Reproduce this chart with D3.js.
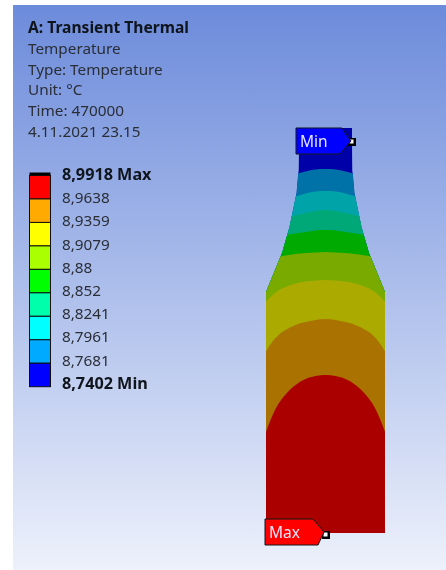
<!DOCTYPE html>
<html lang="en">
<head>
  <meta charset="UTF-8">
  <title>A: Transient Thermal</title>
  <style type="text/css">
    html, body {margin:0;background:#fff;}
    svg {display:block;}
    text {font-family:"Noto Sans",sans-serif;fill:#2a2d36;}
    .info {font-size:15.3px;}
    .title {font-size:15.6px;font-weight:bold;fill:#11131a;}
    .axis text {font-size:15.3px;}
    .axis text.bold {font-size:16.2px;font-weight:bold;fill:#11131a;}
    .tag {font-size:15.5px;fill:#e6e6ff;}
  </style>
</head>
<body>
  <svg id="chart" width="446" height="570"></svg>
  <script src="https://d3js.org/d3.v7.min.js"></script>
  <script type="text/javascript">
    var infoLines = ["A: Transient Thermal", "Temperature", "Type: Temperature", "Unit: °C", "Time: 470000", "4.11.2021 23.15"];

    // legend, top to bottom
    var tickLabels = ["8,9918 Max", "8,9638", "8,9359", "8,9079", "8,88", "8,852", "8,8241", "8,7961", "8,7681", "8,7402 Min"];
    var legendColors = ["#ff0000", "#ffaa00", "#ffff00", "#aaff00", "#00ff00", "#00ffaa", "#00ffff", "#00aaff", "#0000ff"];

    // the same bands on the model are darker, from the neck down
    var bandColors = ["#0000a8", "#0072a8", "#00a4a8", "#00a878", "#00aa00", "#78aa00", "#aaaa00", "#aa7200", "#aa0000"];

    // bottle outline, model units
    var profileHeight = [0, 48.2, 56, 61.2, 68, 72.6, 81];
    var profileRadius = [11.9, 11.9, 8.7, 7.2, 5.8, 5.4, 5.3];

    // isotherm heights read at each radius, from the neck downwards
    var contourRadius = [0, 2, 4, 6, 8, 10, 12];
    var contours = [
      [72.8, 72.7, 72.3, 71.8, 71.4, 71.2, 71],
      [68.4, 68.3, 67.9, 67.3, 66.9, 66.6, 66.4],
      [64.6, 64.4, 64, 63.5, 63, 62.6, 62.2],
      [60.6, 60.5, 60.2, 59.9, 59.6, 59.2, 58.8],
      [56.2, 56.1, 56, 55.8, 55.5, 55.1, 54.4],
      [50.6, 50.5, 50.3, 49.9, 49.2, 48.1, 46.2],
      [42.8, 42.6, 42.2, 41.6, 40.6, 39, 36.2],
      [31.6, 31.4, 30.8, 29.6, 27.7, 24.8, 20]
    ];

    var svg = d3.select("#chart");

    var grad = svg.append("defs").append("linearGradient")
      .attr("id", "bg").attr("x1", 0).attr("x2", 0).attr("y1", 0).attr("y2", 1);
    grad.append("stop").attr("offset", 0).attr("stop-color", "#6c8bdb");
    grad.append("stop").attr("offset", 1).attr("stop-color", "#edf1fb");

    svg.select("defs").append("filter").attr("id", "soft")
      .append("feGaussianBlur").attr("stdDeviation", 0.55);

    var root = svg.append("g").attr("filter", "url(#soft)");

    //background
    root.append("rect")
      .attr("x", 13).attr("y", 5).attr("width", 433).attr("height", 565)
      .attr("fill", "url(#bg)");

    //header text
    root.selectAll(".info")
      .data(infoLines)
      .enter().append("text")
      .attr("class", function(d, i) { return i == 0 ? "title" : "info"; })
      .attr("x", 28)
      .attr("y", function(d, i) { return 33 + i * 20.8; })
      .text(function(d) { return d; });

    //legend
    var yLegend = d3.scaleBand().domain(legendColors).range([175.5, 386.7]);

    root.append("rect")
      .attr("x", 29.5).attr("y", 172.5).attr("width", 21).attr("height", 4)
      .attr("fill", "#000");

    root.selectAll(".swatch")
      .data(legendColors)
      .enter().append("rect")
      .attr("class", "swatch")
      .attr("x", 29.5)
      .attr("y", function(d) { return yLegend(d); })
      .attr("width", 21)
      .attr("height", yLegend.bandwidth())
      .attr("fill", function(d) { return d; })
      .attr("stroke", "#111")
      .attr("stroke-width", 1);

    var yTicks = d3.scalePoint().domain(tickLabels).range([174, 383]);

    var axisG = root.append("g")
      .attr("class", "axis")
      .attr("transform", "translate(54,0)")
      .call(d3.axisRight(yTicks).tickSize(0).tickPadding(8));
    axisG.select(".domain").remove();
    axisG.selectAll("text")
      .classed("bold", function(d) { return d == tickLabels[0] || d == tickLabels[9]; })
      .attr("dy", "0.35em");

    //bottle
    var x = d3.scaleLinear().domain([-12, 12]).range([265.5, 385.5]);
    var y = d3.scaleLinear().domain([0, 81]).range([533, 128]);

    var profile = profileHeight.map(function(h, i) { return [profileRadius[i], h]; });
    var outline = profile.map(function(p) { return [x(-p[0]), y(p[1])]; })
      .concat(profile.slice().reverse().map(function(p) { return [x(p[0]), y(p[1])]; }));

    var bottlePath = d3.line().curve(d3.curveLinearClosed)(outline);

    svg.select("defs").append("clipPath").attr("id", "bottle")
      .append("path").attr("d", bottlePath);

    var model = root.append("g").attr("clip-path", "url(#bottle)");

    model.append("path").attr("d", bottlePath).attr("fill", bandColors[0]);

    var band = d3.area()
      .curve(d3.curveNatural)
      .x(function(d) { return x(d[0]); })
      .y0(y(0))
      .y1(function(d) { return y(d[1]); });

    model.selectAll(".band")
      .data(contours)
      .enter().append("path")
      .attr("class", "band")
      .attr("fill", function(d, i) { return bandColors[i + 1]; })
      .attr("d", function(d) {
        var right = contourRadius.map(function(r, i) { return [r, d[i]]; });
        var left = right.slice(1).reverse().map(function(p) { return [-p[0], p[1]]; });
        return band(left.concat(right));
      });

    //probe tags
    function tag(label, left, top, color, shape, probeX, probeY) {
      var g = root.append("g").attr("transform", "translate(" + left + "," + top + ")");
      g.append("rect").attr("x", probeX).attr("y", probeY).attr("width", 8).attr("height", 8)
        .attr("fill", "#000");
      g.append("rect").attr("x", probeX + 1.5).attr("y", probeY + 1.5).attr("width", 4).attr("height", 4)
        .attr("fill", "#fff");
      g.append("path")
        .attr("d", "M0,0H" + shape[0] + "L" + shape[1] + ",13L" + shape[2] + ",26H0Z")
        .attr("fill", color).attr("stroke", "#10131f").attr("stroke-width", 1);
      g.append("text").attr("class", "tag").attr("x", 4).attr("y", 19).text(label);
    }
    tag("Min", 296, 128, "#0000ff", [46, 55, 44], 52, 10);
    tag("Max", 265, 519, "#ff0000", [48, 59, 53], 57, 12);
  </script>
</body>
</html>
